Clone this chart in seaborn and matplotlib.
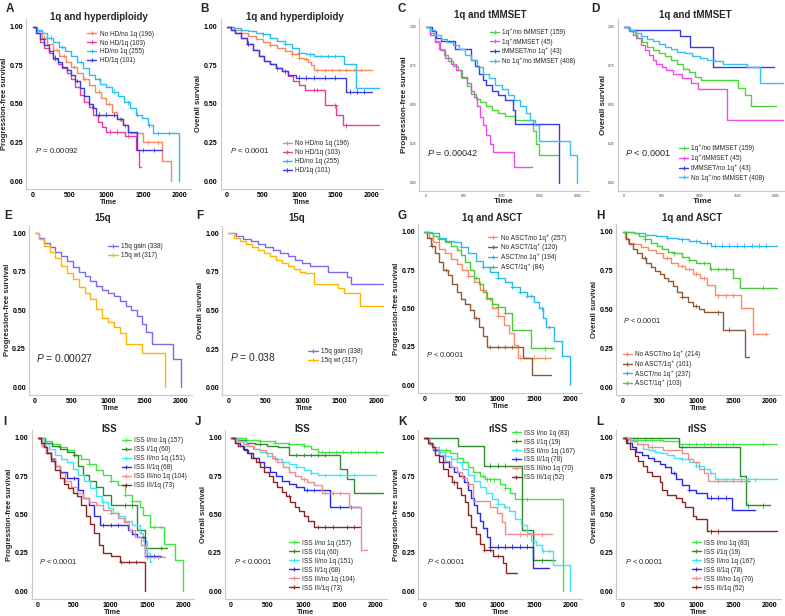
import bisect
import matplotlib
matplotlib.use('Agg')
import pandas as pd
import seaborn as sns
from matplotlib import pyplot as plt
from matplotlib.lines import Line2D

# each curve: *_t = times where the step changes, *_s = survival after that time,
# *_c = censoring times (drawn as + on the curve)

# ---- A: PFS, 1q and hyperdiploidy ----
a1_t = [0, 60, 120, 200, 280, 360, 450, 520, 600, 680, 760, 850, 930, 1000, 1080, 1150, 1230, 1300, 1500, 1760, 1880]
a1_s = [1.0, 0.97, 0.93, 0.89, 0.85, 0.81, 0.77, 0.74, 0.70, 0.66, 0.62, 0.58, 0.54, 0.50, 0.45, 0.40, 0.36, 0.31, 0.25, 0.13, 0.0]
a1_c = [150, 330, 420, 560, 700, 900, 1040, 1180, 1260, 1400, 1560, 1700]
a2_t = [0, 50, 100, 160, 220, 280, 340, 400, 460, 520, 580, 640, 700, 760, 820, 880, 940, 1000, 1250, 1400, 1440, 1470]
a2_s = [1.0, 0.96, 0.90, 0.86, 0.83, 0.79, 0.76, 0.73, 0.70, 0.66, 0.61, 0.56, 0.51, 0.48, 0.43, 0.38, 0.35, 0.32, 0.29, 0.20, 0.09, 0.09]
a2_c = [300, 800, 1050, 1150, 1300]
a3_t = [0, 60, 120, 200, 280, 360, 440, 520, 600, 680, 760, 840, 920, 1000, 1080, 1160, 1240, 1320, 1400, 1480, 1560, 1640, 1990]
a3_s = [1.0, 0.98, 0.96, 0.93, 0.90, 0.87, 0.84, 0.81, 0.77, 0.73, 0.69, 0.66, 0.63, 0.61, 0.58, 0.55, 0.51, 0.47, 0.43, 0.41, 0.36, 0.31, 0.0]
a3_c = [120, 250, 400, 650, 900, 1100, 1300, 1420, 1580, 1700, 1850]
a4_t = [0, 50, 100, 160, 220, 280, 340, 400, 460, 520, 580, 640, 700, 760, 820, 860, 1150, 1220, 1300, 1420, 1760]
a4_s = [1.0, 0.96, 0.92, 0.88, 0.84, 0.80, 0.77, 0.74, 0.72, 0.69, 0.65, 0.60, 0.55, 0.50, 0.47, 0.43, 0.40, 0.36, 0.32, 0.20, 0.20]
a4_c = [150, 300, 600, 900, 1000, 1100, 1200, 1500, 1650]
hd_labels = ['No HD/no 1q (196)', 'No HD/1q (103)', 'HD/no 1q (255)', 'HD/1q (101)']

# ---- B: OS, 1q and hyperdiploidy ----
b1_t = [0, 100, 200, 300, 400, 500, 600, 700, 800, 900, 1000, 1060, 1120, 1160, 1200, 2000]
b1_s = [1.0, 0.98, 0.96, 0.94, 0.92, 0.90, 0.88, 0.86, 0.84, 0.82, 0.80, 0.79, 0.77, 0.75, 0.72, 0.72]
b1_c = [600, 900, 1000, 1100, 1250, 1350, 1450, 1550, 1650, 1750, 1850]
b2_t = [0, 60, 120, 200, 280, 360, 440, 520, 600, 680, 760, 840, 920, 1000, 1080, 1350, 1510, 1600, 2100]
b2_s = [1.0, 0.98, 0.96, 0.93, 0.89, 0.85, 0.81, 0.78, 0.76, 0.73, 0.71, 0.68, 0.65, 0.62, 0.59, 0.49, 0.43, 0.36, 0.36]
b2_c = [300, 700, 1200, 1250, 1500, 1650]
b3_t = [0, 100, 200, 300, 400, 500, 600, 700, 800, 900, 1000, 1100, 1200, 1620, 1780, 2100]
b3_s = [1.0, 0.99, 0.98, 0.97, 0.96, 0.95, 0.93, 0.91, 0.89, 0.86, 0.83, 0.82, 0.81, 0.76, 0.60, 0.60]
b3_c = [500, 800, 1000, 1150, 1300, 1400, 1500]
b4_t = [0, 60, 120, 200, 280, 360, 440, 520, 600, 680, 760, 840, 950, 1650, 2000]
b4_s = [1.0, 0.98, 0.96, 0.93, 0.89, 0.85, 0.81, 0.78, 0.76, 0.73, 0.71, 0.69, 0.67, 0.58, 0.58]
b4_c = [300, 800, 1000, 1100, 1200, 1350, 1500, 1700, 1800, 1900]

# ---- C: PFS, 1q and tMMSET ----
c1_t = [0, 60, 120, 180, 240, 300, 360, 420, 480, 540, 600, 660, 720, 800, 880, 960, 1050, 1180, 1420, 1460, 1490, 1750]
c1_s = [1.0, 0.96, 0.91, 0.86, 0.82, 0.78, 0.75, 0.72, 0.67, 0.62, 0.57, 0.54, 0.52, 0.49, 0.47, 0.45, 0.43, 0.40, 0.33, 0.25, 0.18, 0.18]
c2_t = [0, 60, 120, 190, 260, 330, 400, 470, 540, 600, 640, 680, 720, 760, 800, 850, 890, 1160, 1400]
c2_s = [1.0, 0.95, 0.90, 0.85, 0.80, 0.76, 0.72, 0.68, 0.64, 0.59, 0.55, 0.49, 0.42, 0.37, 0.31, 0.25, 0.20, 0.10, 0.10]
c3_t = [0, 80, 140, 200, 380, 600, 650, 700, 750, 800, 880, 950, 1050, 1150, 1180, 1760]
c3_s = [1.0, 0.97, 0.93, 0.91, 0.86, 0.79, 0.75, 0.70, 0.66, 0.63, 0.59, 0.56, 0.53, 0.47, 0.38, 0.0]
c4_t = [0, 60, 120, 200, 280, 360, 440, 520, 600, 680, 760, 840, 920, 1000, 1080, 1160, 1240, 1320, 1380, 1440, 1500, 1900, 1990]
c4_s = [1.0, 0.98, 0.95, 0.92, 0.90, 0.88, 0.86, 0.82, 0.79, 0.74, 0.70, 0.67, 0.63, 0.60, 0.56, 0.53, 0.49, 0.45, 0.40, 0.37, 0.27, 0.18, 0.0]
mm_labels = ['1q\u207a/no tMMSET (159)', '1q\u207a/tMMSET (45)', 'tMMSET/no 1q\u207a (43)', 'No 1q\u207a/no tMMSET (408)']

# ---- D: OS, 1q and tMMSET ----
d1_t = [0, 80, 160, 240, 300, 380, 460, 540, 620, 700, 780, 860, 940, 1010, 1500, 1590, 1680, 2010]
d1_s = [1.0, 0.97, 0.93, 0.90, 0.87, 0.85, 0.83, 0.81, 0.79, 0.76, 0.73, 0.71, 0.68, 0.66, 0.61, 0.56, 0.49, 0.49]
d2_t = [0, 60, 120, 170, 230, 280, 330, 380, 420, 500, 560, 640, 760, 880, 980, 1360, 2100]
d2_s = [1.0, 0.97, 0.95, 0.93, 0.88, 0.85, 0.82, 0.79, 0.76, 0.74, 0.72, 0.70, 0.67, 0.64, 0.60, 0.40, 0.40]
d3_t = [0, 60, 740, 870, 1170, 1980]
d3_s = [1.0, 0.98, 0.94, 0.87, 0.74, 0.74]
d4_t = [0, 60, 140, 220, 300, 380, 460, 540, 620, 700, 800, 900, 1000, 1100, 1200, 1300, 1620, 1790, 2100]
d4_s = [1.0, 0.98, 0.96, 0.94, 0.92, 0.91, 0.89, 0.87, 0.86, 0.84, 0.83, 0.81, 0.80, 0.79, 0.78, 0.76, 0.74, 0.64, 0.64]

# ---- E: PFS, 15q ----
e1_t = [0, 60, 120, 200, 280, 360, 440, 520, 600, 680, 760, 840, 920, 1000, 1080, 1160, 1240, 1320, 1400, 1460, 1520, 1600, 1890, 2000]
e1_s = [1.0, 0.97, 0.94, 0.91, 0.88, 0.85, 0.82, 0.78, 0.75, 0.72, 0.69, 0.66, 0.63, 0.61, 0.59, 0.56, 0.53, 0.50, 0.46, 0.41, 0.36, 0.28, 0.18, 0.0]
e2_t = [0, 60, 120, 200, 280, 360, 440, 520, 600, 680, 760, 840, 920, 1000, 1080, 1160, 1240, 1460, 1780]
e2_s = [1.0, 0.96, 0.92, 0.88, 0.84, 0.79, 0.74, 0.70, 0.65, 0.61, 0.57, 0.51, 0.45, 0.42, 0.39, 0.35, 0.28, 0.22, 0.0]
q15_labels = ['15q gain (338)', '15q wt (317)']

# ---- F: OS, 15q ----
f1_t = [0, 100, 200, 300, 400, 500, 600, 700, 800, 900, 1000, 1100, 1350, 1600, 1660, 2090]
f1_s = [1.0, 0.98, 0.96, 0.95, 0.93, 0.91, 0.89, 0.87, 0.85, 0.83, 0.81, 0.79, 0.75, 0.72, 0.67, 0.67]
f2_t = [0, 80, 160, 240, 320, 400, 480, 560, 640, 720, 800, 880, 960, 1040, 1150, 1480, 1560, 1770, 2090]
f2_s = [1.0, 0.97, 0.95, 0.93, 0.91, 0.89, 0.87, 0.85, 0.83, 0.81, 0.79, 0.77, 0.75, 0.74, 0.67, 0.645, 0.615, 0.53, 0.53]

# ---- G: PFS, 1q and ASCT ----
g1_t = [0, 60, 120, 200, 280, 360, 440, 520, 600, 680, 760, 840, 920, 1000, 1080, 1160, 1220, 1280, 1730]
g1_s = [1.0, 0.96, 0.93, 0.89, 0.86, 0.82, 0.79, 0.75, 0.71, 0.67, 0.62, 0.56, 0.50, 0.45, 0.39, 0.34, 0.26, 0.18, 0.18]
g1_c = [100, 600, 900, 1000, 1300, 1500, 1650]
g2_t = [0, 40, 90, 140, 200, 260, 320, 380, 440, 500, 560, 620, 680, 740, 800, 860, 1350, 1470, 1730]
g2_s = [1.0, 0.96, 0.91, 0.86, 0.80, 0.75, 0.72, 0.66, 0.61, 0.56, 0.53, 0.49, 0.44, 0.38, 0.32, 0.25, 0.18, 0.07, 0.07]
g2_c = [100, 300, 700, 900, 1000, 1100, 1200]
g3_t = [0, 100, 200, 300, 400, 500, 600, 700, 800, 900, 1000, 1100, 1200, 1300, 1400, 1500, 1560, 1620, 1660, 1770, 1880, 1990]
g3_s = [1.0, 0.99, 0.96, 0.94, 0.93, 0.90, 0.86, 0.81, 0.77, 0.74, 0.70, 0.67, 0.64, 0.61, 0.58, 0.54, 0.50, 0.44, 0.38, 0.29, 0.19, 0.0]
g3_c = [200, 500, 800, 1000, 1200, 1300, 1400, 1450, 1600, 1700]
g4_t = [0, 60, 120, 200, 280, 360, 440, 500, 560, 620, 680, 740, 800, 860, 920, 1000, 1100, 1200, 1460, 1770]
g4_s = [1.0, 0.99, 0.97, 0.95, 0.93, 0.91, 0.88, 0.85, 0.80, 0.75, 0.70, 0.66, 0.61, 0.57, 0.53, 0.51, 0.47, 0.36, 0.24, 0.24]
g4_c = [200, 700, 1000, 1100, 1650]
asct_pfs_labels = ['No ASCT/no 1q\u207a (257)', 'No ASCT/1q\u207a (120)', 'ASCT/no 1q\u207a (194)', 'ASCT/1q\u207a (84)']

# ---- H: OS, 1q and ASCT ----
h1_t = [0, 30, 70, 150, 250, 350, 450, 550, 650, 750, 850, 950, 1050, 1150, 1250, 1600, 1770, 1960]
h1_s = [1.0, 0.96, 0.93, 0.92, 0.90, 0.88, 0.86, 0.83, 0.80, 0.78, 0.76, 0.73, 0.70, 0.66, 0.59, 0.51, 0.34, 0.34]
h1_c = [600, 800, 900, 1000, 1100, 1300, 1400, 1500, 1950]
h2_t = [0, 40, 80, 140, 200, 260, 320, 380, 440, 500, 560, 620, 680, 740, 800, 880, 960, 1040, 1100, 1360, 1660, 1720]
h2_s = [1.0, 0.95, 0.92, 0.89, 0.86, 0.83, 0.80, 0.77, 0.75, 0.73, 0.70, 0.68, 0.65, 0.61, 0.58, 0.55, 0.52, 0.50, 0.48, 0.37, 0.19, 0.19]
h2_c = [300, 800, 1000, 1300, 1450]
h3_t = [0, 150, 300, 450, 600, 750, 900, 1050, 1200, 2100]
h3_s = [1.0, 0.99, 0.98, 0.97, 0.96, 0.95, 0.94, 0.93, 0.91, 0.91]
h3_c = [600, 800, 1000, 1150, 1250, 1350, 1450, 1550, 1650, 1750, 1850, 1950]
h4_t = [0, 150, 220, 300, 380, 460, 540, 620, 700, 800, 900, 1000, 1180, 1500, 1590, 2100]
h4_s = [1.0, 0.99, 0.97, 0.95, 0.93, 0.91, 0.89, 0.87, 0.86, 0.84, 0.82, 0.80, 0.76, 0.70, 0.64, 0.64]
h4_c = [300, 700, 900, 1100, 1200, 1300, 1400, 1900]
asct_os_labels = ['No ASCT/no 1q\u207a (214)', 'No ASCT/1q\u207a (101)', 'ASCT/no 1q\u207a (237)', 'ASCT/1q\u207a (103)']

# ---- I: PFS, ISS ----
i1_t = [0, 100, 200, 300, 400, 500, 600, 700, 800, 900, 1000, 1100, 1200, 1300, 1400, 1450, 1540, 1740, 1880, 2000]
i1_s = [1.0, 0.98, 0.96, 0.94, 0.92, 0.89, 0.86, 0.83, 0.79, 0.76, 0.72, 0.69, 0.63, 0.59, 0.55, 0.50, 0.42, 0.31, 0.20, 0.0]
i1_c = [300, 700, 1000, 1200, 1300, 1600, 1700]
i2_t = [0, 100, 200, 300, 400, 500, 560, 620, 700, 800, 900, 1000, 1360, 1480, 1770]
i2_s = [1.0, 0.97, 0.95, 0.93, 0.91, 0.89, 0.82, 0.76, 0.72, 0.68, 0.63, 0.56, 0.40, 0.28, 0.28]
i2_c = [500, 1200, 1300, 1700]
i3_t = [0, 80, 160, 240, 320, 400, 480, 560, 640, 720, 800, 880, 960, 1040, 1120, 1200, 1300, 1400, 1450, 1500, 1540, 1560]
i3_s = [1.0, 0.96, 0.93, 0.89, 0.86, 0.84, 0.80, 0.76, 0.72, 0.67, 0.62, 0.58, 0.54, 0.51, 0.49, 0.46, 0.43, 0.38, 0.33, 0.25, 0.19, 0.19]
i3_c = [900, 1100, 1420]
i4_t = [0, 60, 120, 180, 240, 300, 400, 560, 620, 700, 780, 860, 1240, 1300, 1360, 1480, 1700]
i4_s = [1.0, 0.95, 0.90, 0.86, 0.82, 0.78, 0.74, 0.66, 0.61, 0.56, 0.49, 0.43, 0.40, 0.37, 0.35, 0.23, 0.23]
i4_c = [500, 900, 1000, 1100, 1500, 1600]
i5_t = [0, 60, 120, 180, 240, 300, 380, 460, 540, 620, 700, 800, 900, 1000, 1100, 1180, 1260, 1340, 1420, 1470, 1750]
i5_s = [1.0, 0.95, 0.91, 0.87, 0.82, 0.77, 0.72, 0.68, 0.64, 0.61, 0.58, 0.56, 0.53, 0.51, 0.48, 0.45, 0.40, 0.35, 0.30, 0.22, 0.22]
i5_c = [1000, 1300, 1500, 1650]
i6_t = [0, 40, 80, 130, 180, 240, 300, 360, 420, 480, 540, 600, 660, 720, 780, 840, 900, 1000, 1130, 1480]
i6_s = [1.0, 0.97, 0.94, 0.90, 0.85, 0.79, 0.74, 0.70, 0.67, 0.64, 0.62, 0.56, 0.49, 0.44, 0.38, 0.30, 0.25, 0.23, 0.19, 0.0]
i6_c = [1150, 1250, 1350]
iss_labels = ['ISS I/no 1q (157)', 'ISS I/1q (60)', 'ISS II/no 1q (151)', 'ISS II/1q (68)',
              'ISS III/no 1q (104)', 'ISS III/1q (73)']

# ---- J: OS, ISS ----
j1_t = [0, 200, 400, 600, 800, 1000, 1100, 1200, 2100]
j1_s = [1.0, 0.99, 0.98, 0.97, 0.96, 0.95, 0.93, 0.91, 0.91]
j1_c = [200, 400, 600, 800, 1000, 1250, 1350, 1450, 1550, 1650, 1750, 1850, 2000]
j2_t = [0, 100, 200, 330, 500, 650, 800, 1510, 1600, 1690, 2100]
j2_s = [1.0, 0.99, 0.97, 0.96, 0.95, 0.94, 0.89, 0.80, 0.73, 0.64, 0.64]
j2_c = [400, 900, 1000, 1100, 1200, 1300]
j3_t = [0, 100, 200, 300, 400, 500, 600, 700, 800, 900, 1000, 1100, 1200, 2000]
j3_s = [1.0, 0.98, 0.95, 0.93, 0.91, 0.88, 0.86, 0.84, 0.83, 0.81, 0.79, 0.77, 0.76, 0.76]
j3_c = [600, 900, 1100, 1300, 1500, 1700]
j4_t = [0, 60, 120, 180, 240, 300, 380, 460, 540, 620, 700, 800, 900, 1000, 1360, 1780]
j4_s = [1.0, 0.97, 0.95, 0.92, 0.90, 0.87, 0.84, 0.81, 0.78, 0.75, 0.72, 0.70, 0.68, 0.66, 0.55, 0.55]
j4_c = [1050, 1150, 1250, 1500, 1650]
j5_t = [0, 80, 160, 240, 320, 400, 480, 560, 640, 720, 800, 880, 960, 1050, 1150, 1250, 1630, 1790, 1870]
j5_s = [1.0, 0.98, 0.96, 0.95, 0.93, 0.92, 0.90, 0.87, 0.84, 0.81, 0.78, 0.75, 0.73, 0.71, 0.69, 0.64, 0.55, 0.27, 0.27]
j5_c = [1000, 1300, 1400, 1500]
j6_t = [0, 50, 100, 160, 220, 280, 340, 400, 460, 520, 580, 640, 700, 760, 820, 880, 940, 1000, 1060, 1140, 1780]
j6_s = [1.0, 0.97, 0.95, 0.93, 0.90, 0.87, 0.84, 0.81, 0.78, 0.75, 0.71, 0.68, 0.65, 0.62, 0.58, 0.55, 0.52, 0.49, 0.46, 0.42, 0.42]
j6_c = [800, 1200, 1300, 1400, 1600, 1700]

# ---- K: PFS, rISS ----
k1_t = [0, 60, 120, 350, 440, 530, 600, 670, 760, 830, 1030, 1100, 1170, 1240, 1890]
k1_s = [1.0, 0.97, 0.92, 0.90, 0.87, 0.84, 0.81, 0.78, 0.75, 0.73, 0.70, 0.67, 0.64, 0.60, 0.0]
k1_c = [300, 800, 850, 900, 950, 1100, 1400]
k2_t = [0, 460, 810, 1330, 1480, 1780]
k2_s = [1.0, 0.95, 0.82, 0.40, 0.20, 0.20]
k2_c = [900, 1000, 1100, 1600]
k3_t = [0, 60, 120, 200, 280, 360, 440, 520, 600, 680, 760, 840, 920, 1000, 1080, 1160, 1240, 1320, 1400, 1450, 1520, 1600, 1760, 1990]
k3_s = [1.0, 0.97, 0.94, 0.91, 0.88, 0.86, 0.84, 0.80, 0.76, 0.72, 0.68, 0.64, 0.60, 0.57, 0.55, 0.52, 0.47, 0.43, 0.38, 0.33, 0.30, 0.26, 0.17, 0.0]
k3_c = [1000, 1100, 1500, 1620, 1700]
k4_t = [0, 60, 120, 200, 260, 330, 400, 470, 540, 600, 640, 680, 720, 760, 800, 850, 890, 1480, 1700]
k4_s = [1.0, 0.96, 0.92, 0.88, 0.84, 0.81, 0.78, 0.75, 0.71, 0.66, 0.61, 0.56, 0.51, 0.46, 0.41, 0.35, 0.29, 0.15, 0.15]
k4_c = [900, 1000, 1100, 1200, 1300, 1400]
k5_t = [0, 60, 120, 200, 280, 360, 440, 520, 580, 660, 900, 990, 1060, 1100, 1740]
k5_s = [1.0, 0.96, 0.93, 0.89, 0.85, 0.81, 0.78, 0.74, 0.70, 0.59, 0.55, 0.51, 0.45, 0.37, 0.37]
k5_c = [1300, 1400, 1500, 1600]
k6_t = [0, 50, 100, 150, 200, 260, 320, 380, 440, 500, 560, 600, 640, 700, 760, 810, 940, 1070, 1120, 1270]
k6_s = [1.0, 0.97, 0.94, 0.89, 0.84, 0.80, 0.75, 0.71, 0.67, 0.63, 0.58, 0.50, 0.42, 0.37, 0.31, 0.27, 0.23, 0.18, 0.12, 0.12]
k6_c = [400, 820, 900, 1000]
riss_labels = ['ISS I/no 1q (83)', 'ISS I/1q (19)', 'ISS II/no 1q (167)', 'ISS II/1q (78)',
               'ISS III/no 1q (70)', 'ISS III/1q (52)']

# ---- L: OS, rISS ----
l1_t = [0, 80, 550, 770, 2090]
l1_s = [1.0, 0.99, 0.98, 0.96, 0.96]
l1_c = [50, 100, 150, 200, 300, 400, 500, 900, 1000, 1100, 1200, 1300, 1400, 1500, 1900]
l2_t = [0, 770, 1590, 1670, 2000]
l2_s = [1.0, 0.94, 0.75, 0.56, 0.56]
l2_c = [800, 1700, 1900]
l3_t = [0, 60, 120, 200, 280, 360, 440, 520, 600, 700, 800, 900, 1000, 1100, 1180, 1260, 2100]
l3_s = [1.0, 0.99, 0.98, 0.96, 0.93, 0.92, 0.91, 0.90, 0.89, 0.87, 0.86, 0.84, 0.82, 0.80, 0.77, 0.73, 0.73]
l3_c = [800, 1000, 1200, 1300, 1400, 1500, 1600, 1700, 1800]
l4_t = [0, 60, 120, 180, 260, 340, 420, 500, 580, 650, 720, 800, 900, 1000, 1150, 1480, 1790]
l4_s = [1.0, 0.97, 0.94, 0.91, 0.89, 0.87, 0.85, 0.83, 0.81, 0.77, 0.73, 0.69, 0.66, 0.64, 0.61, 0.53, 0.53]
l4_c = [700, 900, 1200, 1300, 1400]
l5_t = [0, 100, 200, 350, 550, 800, 880, 960, 1030, 1100, 1160, 1730]
l5_s = [1.0, 0.98, 0.96, 0.94, 0.92, 0.90, 0.86, 0.84, 0.80, 0.77, 0.72, 0.72]
l5_c = [400, 1300, 1500, 1600]
l6_t = [0, 40, 100, 170, 210, 280, 330, 400, 500, 540, 600, 720, 800, 850, 950, 1000, 1150, 2100]
l6_s = [1.0, 0.97, 0.93, 0.88, 0.85, 0.82, 0.78, 0.75, 0.71, 0.66, 0.63, 0.61, 0.58, 0.55, 0.49, 0.47, 0.39, 0.39]
l6_c = [1200, 1300]

p_values = ['0.00092', '< 0.0001', '0.00042', '< 0.0001', '0.00027', '0.038',
            '< 0.0001', '< 0.0001', '< 0.0001', '< 0.0001', '< 0.0001', '< 0.0001']

# ---- styling ----
pal_hd = ['#F8875F', '#F0389A', '#27BEF2', '#3A3AE6']
pal_mm = ['#48D83C', '#F04BE8', '#3A3AE6', '#35BFF5']
pal_15 = ['#7A6CF2', '#FFB400']
pal_asct = ['#FA8A64', '#8C5A34', '#26B9F2', '#4CC93A']
pal_iss = ['#3CE83C', '#2F8A2F', '#3DE8F2', '#2828EE', '#EE8C8C', '#8E2323']

sns.set_theme(style='white')
plt.rcParams['font.family'] = ['Liberation Sans', 'DejaVu Sans']
plt.rcParams['mathtext.fontset'] = 'custom'
plt.rcParams['mathtext.rm'] = 'Liberation Sans'
plt.rcParams['mathtext.it'] = 'Liberation Sans:italic'

W, H = 785, 616
XLIM = (-85, 2150)
YLIM = (-0.05, 1.05)
fig = plt.figure(figsize=(W / 100, H / 100), dpi=100)


def make_axes(x0, x2000, y1, y0):
    # pixel positions of x=0, x=2000, y=1.00, y=0.00 -> axes box
    sx = (x2000 - x0) / 2000.0
    sy = (y0 - y1)
    left = x0 + XLIM[0] * sx
    right = x0 + XLIM[1] * sx
    top = y1 - (YLIM[1] - 1) * sy
    bottom = y0 - YLIM[0] * sy
    return fig.add_axes([left / W, 1 - bottom / H, (right - left) / W, (bottom - top) / H])


def step_value(t, s, c):
    return s[bisect.bisect_right(t, c) - 1]


panels = [
    dict(box=(32.7, 180, 26.7, 181), letter='A', lpos=(6, 9), title='1q and hyperdiploidy', tx=0.44, ty=1.01,
         ylab='Progression-free survival',
         series=[(a1_t, a1_s, a1_c), (a2_t, a2_s, a2_c), (a3_t, a3_s, a3_c), (a4_t, a4_s, a4_c)],
         labels=hd_labels, pal=pal_hd, p=(30, 0.20, 5.6), leg=(740, 0.975), tick=5.0),
    dict(box=(226.7, 371.7, 26.7, 181), letter='B', lpos=(200, 9), title='1q and hyperdiploidy', tx=0.46, ty=1.01,
         ylab='Overall survival',
         series=[(b1_t, b1_s, b1_c), (b2_t, b2_s, b2_c), (b3_t, b3_s, b3_c), (b4_t, b4_s, b4_c)],
         labels=hd_labels, pal=pal_hd, p=(40, 0.20, 5.6), leg=(770, 0.265), tick=5.0),
    dict(box=(425.7, 577.3, 26.7, 183), letter='C', lpos=(398, 9), title='1q and tMMSET', tx=0.42, ty=1.02,
         ylab='Progression-free survival',
         series=[(c1_t, c1_s, []), (c2_t, c2_s, []), (c3_t, c3_s, []), (c4_t, c4_s, [])],
         labels=mm_labels, pal=pal_mm, p=(15, 0.19, 6.6), leg=(848, 0.99), tick=2.4),
    dict(box=(624, 775.7, 26.7, 183), letter='D', lpos=(591, 9), title='1q and tMMSET', tx=0.46, ty=1.02,
         ylab='Overall survival',
         series=[(d1_t, d1_s, []), (d2_t, d2_s, []), (d3_t, d3_s, []), (d4_t, d4_s, [])],
         labels=mm_labels, pal=pal_mm, p=(15, 0.19, 6.6), leg=(725, 0.245), tick=2.4),
    dict(box=(35, 181, 233.3, 387), letter='E', lpos=(4, 216), title='15q', tx=0.455, ty=1.045,
         ylab='Progression-free survival', series=[(e1_t, e1_s, []), (e2_t, e2_s, [])],
         labels=q15_labels, pal=pal_15, p=(15, 0.19, 7.4), leg=(1005, 0.935), tick=5.0),
    dict(box=(228.3, 376.7, 233.3, 387.7), letter='F', lpos=(196, 216), title='15q', tx=0.45, ty=1.045,
         ylab='Overall survival', series=[(f1_t, f1_s, []), (f2_t, f2_s, [])],
         labels=q15_labels, pal=pal_15, p=(22, 0.20, 7.4), leg=(1079, 0.255), tick=5.0),
    dict(box=(424.3, 571, 231.7, 385.3), letter='G', lpos=(398, 216), title='1q and ASCT', tx=0.45, ty=1.035,
         ylab='Progression-free survival',
         series=[(g1_t, g1_s, g1_c), (g2_t, g2_s, g2_c), (g3_t, g3_s, g3_c), (g4_t, g4_s, g4_c)],
         labels=asct_pfs_labels, pal=pal_asct, p=(23, 0.20, 5.4), leg=(873, 0.985), tick=5.0),
    dict(box=(622.7, 770, 231.7, 387), letter='H', lpos=(596, 216), title='1q and ASCT', tx=0.46, ty=1.035,
         ylab='Overall survival',
         series=[(h1_t, h1_s, h1_c), (h2_t, h2_s, h2_c), (h3_t, h3_s, h3_c), (h4_t, h4_s, h4_c)],
         labels=asct_os_labels, pal=pal_asct, p=(9, 0.43, 5.4), leg=(0, 0.235), tick=5.0),
    dict(box=(37.7, 183.3, 438, 591), letter='I', lpos=(3, 422), title='ISS', tx=0.48, ty=1.01,
         ylab='Progression-free survival',
         series=[(i1_t, i1_s, i1_c), (i2_t, i2_s, i2_c), (i3_t, i3_s, i3_c), (i4_t, i4_s, i4_c),
                 (i5_t, i5_s, i5_c), (i6_t, i6_s, i6_c)],
         labels=iss_labels, pal=pal_iss, p=(23, 0.19, 5.4), leg=(1153, 1.005), tick=5.0),
    dict(box=(231, 376, 438, 591), letter='J', lpos=(195, 422), title='ISS', tx=0.48, ty=1.01,
         ylab='Overall survival',
         series=[(j1_t, j1_s, j1_c), (j2_t, j2_s, j2_c), (j3_t, j3_s, j3_c), (j4_t, j4_s, j4_c),
                 (j5_t, j5_s, j5_c), (j6_t, j6_s, j6_c)],
         labels=iss_labels, pal=pal_iss, p=(46, 0.19, 5.4), leg=(805, 0.335), tick=5.0),
    dict(box=(424.3, 571, 438, 591), letter='K', lpos=(398, 422), title='rISS', tx=0.49, ty=1.01,
         ylab='Progression-free survival',
         series=[(k1_t, k1_s, k1_c), (k2_t, k2_s, k2_c), (k3_t, k3_s, k3_c), (k4_t, k4_s, k4_c),
                 (k5_t, k5_s, k5_c), (k6_t, k6_s, k6_c)],
         labels=riss_labels, pal=pal_iss, p=(32, 0.19, 5.4), leg=(1190, 1.055), tick=5.0),
    dict(box=(622.7, 770, 438, 591), letter='L', lpos=(596, 422), title='rISS', tx=0.49, ty=1.01,
         ylab='Overall survival',
         series=[(l1_t, l1_s, l1_c), (l2_t, l2_s, l2_c), (l3_t, l3_s, l3_c), (l4_t, l4_s, l4_c),
                 (l5_t, l5_s, l5_c), (l6_t, l6_s, l6_c)],
         labels=riss_labels, pal=pal_iss, p=(32, 0.19, 5.4), leg=(937, 0.335), tick=5.0),
]

for k, pn in enumerate(panels):
    ax = make_axes(*pn['box'])
    curves, marks = [], []
    for (t, s, cens), lab in zip(pn['series'], pn['labels']):
        curves.append(pd.DataFrame({'time': t, 'surv': s, 'group': lab}))
        if cens:
            marks.append(pd.DataFrame({'time': cens, 'surv': [step_value(t, s, c) for c in cens], 'group': lab}))
    df = pd.concat(curves, ignore_index=True)
    sns.lineplot(data=df, x='time', y='surv', hue='group', hue_order=pn['labels'], palette=pn['pal'],
                 estimator=None, sort=False, drawstyle='steps-post', linewidth=1.0, legend=False, ax=ax)
    if marks:
        dm = pd.concat(marks, ignore_index=True)
        sns.scatterplot(data=dm, x='time', y='surv', hue='group', hue_order=pn['labels'], palette=pn['pal'],
                        marker='+', s=10, linewidth=0.6, legend=False, ax=ax)

    ax.set_xlim(*XLIM)
    ax.set_ylim(*YLIM)
    ax.set_xticks([0, 500, 1000, 1500, 2000])
    ax.set_yticks([0, 0.25, 0.5, 0.75, 1.0])
    ax.set_yticklabels(['0.00', '0.25', '0.50', '0.75', '1.00'])
    small = pn['tick'] < 3
    for lab in ax.get_xticklabels() + ax.get_yticklabels():
        lab.set_fontweight('normal' if small else 'bold')
        lab.set_fontsize(pn['tick'])
        lab.set_color('#333333' if small else 'black')
    ax.tick_params(axis='both', length=1.5, width=0.5, color='#bbbbbb', pad=0.6)
    for side in ['top', 'right']:
        ax.spines[side].set_visible(False)
    for side in ['left', 'bottom']:
        ax.spines[side].set_color('#c8c8c8')
        ax.spines[side].set_linewidth(0.8)

    ax.set_xlabel('Time', fontsize=6.0 if small else 5.3, fontweight='bold', labelpad=0)
    ax.set_ylabel(pn['ylab'], fontsize=5.8 if small else 5.5, fontweight='bold', labelpad=1)
    ax.text(pn['tx'], pn['ty'], pn['title'], transform=ax.transAxes, ha='center', va='center',
            fontsize=7.0, fontweight='bold')
    fig.text(pn['lpos'][0] / W, 1 - pn['lpos'][1] / H, pn['letter'], fontsize=8.5, fontweight='bold',
             ha='left', va='center')

    px, py, psize = pn['p']
    pv = p_values[k]
    ptxt = '$P$ ' + pv if pv.startswith('<') else '$P$ = ' + pv
    ax.text(px, py, ptxt, fontsize=psize, ha='left', va='center')

    handles = [Line2D([0], [0], color=c, lw=1.0, marker='+', markersize=3.5, markeredgewidth=0.8)
               for c in pn['pal']]
    ax.legend(handles, pn['labels'], loc='upper left', bbox_to_anchor=pn['leg'], bbox_transform=ax.transData,
              frameon=False, fontsize=4.7, handlelength=1.4, handletextpad=0.5, labelspacing=0.3,
              borderpad=0, borderaxespad=0)

fig.savefig('out.png', dpi=100)
